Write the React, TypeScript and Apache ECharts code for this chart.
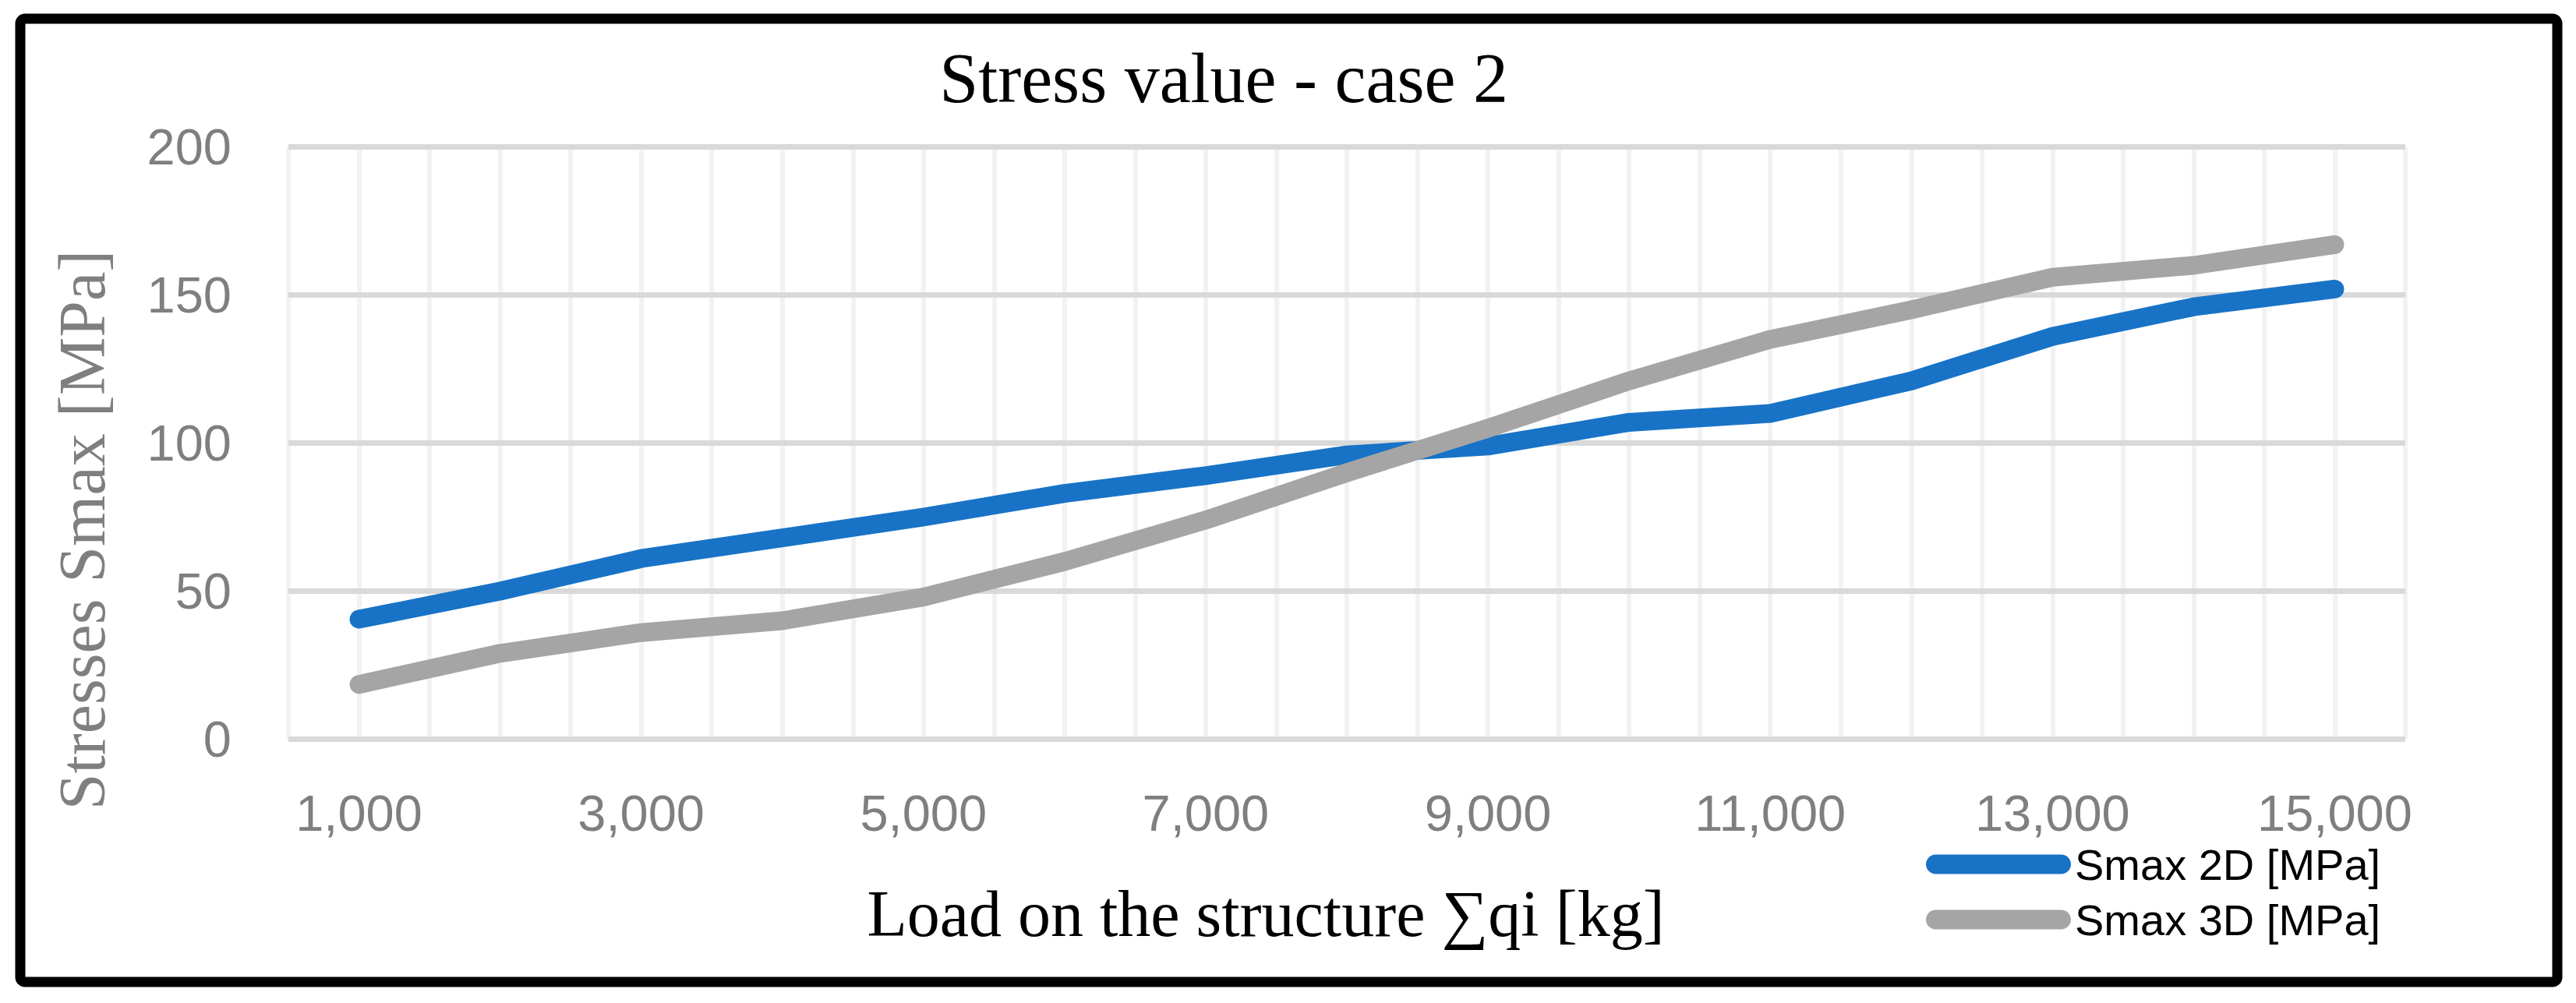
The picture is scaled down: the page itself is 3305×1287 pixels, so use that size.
import React, { useEffect, useRef } from "react";
import * as echarts from "echarts";

const loads: number[] = [1000, 2000, 3000, 4000, 5000, 6000, 7000, 8000, 9000, 10000, 11000, 12000, 13000, 14000, 15000];
const smax2D: number[] = [40.5, 50, 61, 68, 75, 83, 89, 96, 99, 107, 110, 121, 136, 146, 152];
const smax3D: number[] = [18.5, 29, 36, 40, 48, 60, 74, 90, 105, 121, 135, 145, 156, 160, 167];
const seriesNames: string[] = ["Smax 2D [MPa]", "Smax 3D [MPa]"];
const chartTitle = "Stress value - case 2";
const xTitle = "Load on the structure \u2211qi [kg]";
const yTitle = "Stresses Smax [MPa]";

const W = 3305;
const H = 1287;

export default function App() {
  const ref = useRef<HTMLDivElement>(null);
  useEffect(() => {
    if (!ref.current) return;
    const chart = echarts.init(ref.current, undefined, { renderer: "svg", width: W, height: H });
    const pair = (ys: number[]) => loads.map((x, i) => [x, ys[i]]);
    const legendIcon =
      "path://M12.5,0 H173.5 A12.5,12.5 0 0 1 173.5,25 H12.5 A12.5,12.5 0 0 1 12.5,0 Z";
    chart.setOption({
      animation: false,
      backgroundColor: "#ffffff",
      title: {
        text: chartTitle,
        left: 1570,
        top: 55,
        padding: 0,
        textAlign: "center",
        textStyle: {
          fontFamily: "Liberation Serif",
          fontSize: 90,
          fontWeight: "normal",
          color: "#000000",
          lineHeight: 90,
        },
      },
      grid: { left: 370, right: W - 3086, top: 188.5, bottom: H - 948.5, containLabel: false },
      xAxis: {
        type: "value",
        min: 500,
        max: 15500,
        interval: 500,
        axisLine: { show: false },
        axisTick: { show: false },
        splitLine: { show: true, lineStyle: { color: "#F2F2F2", width: 6 } },
        axisLabel: {
          margin: 62,
          color: "#7F7F7F",
          fontFamily: "Liberation Sans",
          fontSize: 65,
          lineHeight: 65,
          showMinLabel: true,
          showMaxLabel: true,
          formatter: (v: number) => ((v - 1000) % 2000 === 0 ? v.toLocaleString("en-US") : ""),
        },
      },
      yAxis: {
        type: "value",
        min: 0,
        max: 200,
        interval: 50,
        z: 1,
        axisLine: { show: false },
        axisTick: { show: false },
        splitLine: { show: true, lineStyle: { color: "#D9D9D9", width: 7 } },
        axisLabel: {
          margin: 73,
          color: "#7F7F7F",
          fontFamily: "Liberation Sans",
          fontSize: 65,
        },
      },
      legend: {
        orient: "vertical",
        left: 2471,
        top: 1079,
        padding: 0,
        itemWidth: 186,
        itemHeight: 25,
        itemGap: 11,
        selectedMode: false,
        data: seriesNames.map((n) => ({ name: n, icon: legendIcon })),
        textStyle: {
          fontFamily: "Liberation Sans",
          fontSize: 56,
          lineHeight: 60,
          color: "#000000",
          padding: [0, 0, 0, 0],
        },
      },
      graphic: [
        {
          type: "rect",
          shape: { x: 26, y: 24, width: 3255, height: 1236, r: 6 },
          style: { fill: "none", stroke: "#000000", lineWidth: 13 },
          z: 100,
          silent: true,
        },
        {
          type: "text",
          x: 105,
          y: 680,
          rotation: Math.PI / 2,
          style: {
            text: yTitle,
            fontFamily: "Liberation Serif",
            fontSize: 84,
            fill: "#7F7F7F",
            align: "center",
            verticalAlign: "middle",
          },
          silent: true,
        },
        {
          type: "text",
          x: 1624,
          y: 1172,
          style: {
            text: xTitle,
            fontFamily: "Liberation Serif",
            fontSize: 84,
            fill: "#000000",
            align: "center",
            verticalAlign: "middle",
          },
          silent: true,
        },
      ],
      series: [
        {
          name: seriesNames[0],
          type: "line",
          data: pair(smax2D),
          symbol: "none",
          color: "#1873C7",
          lineStyle: { width: 24, color: "#1873C7", cap: "round", join: "round" },
          z: 3,
        },
        {
          name: seriesNames[1],
          type: "line",
          data: pair(smax3D),
          symbol: "none",
          color: "#A5A5A5",
          lineStyle: { width: 24, color: "#A5A5A5", cap: "round", join: "round" },
          z: 4,
        },
      ],
    });
    return () => chart.dispose();
  }, []);
  return (
    <div
      ref={ref}
      style={{ position: "fixed", left: 0, top: 0, width: W, height: H, background: "#fff" }}
    />
  );
}
